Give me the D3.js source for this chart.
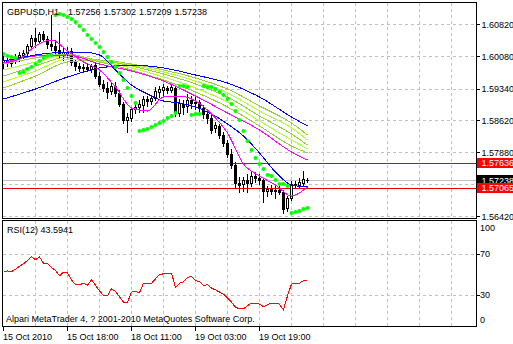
<!DOCTYPE html>
<html>
<head>
<meta charset="utf-8">
<script src="https://cdnjs.cloudflare.com/ajax/libs/d3/7.8.5/d3.min.js"></script>
<style>
  body { margin: 0; background: #fff; }
  svg { display: block; font-family: "Liberation Sans", Arial, sans-serif; font-size: 9px; }
</style>
</head>
<body>
<div id="chart"></div>
<script>
const symbol = "GBPUSD,H1";

// hourly bars, 15 Oct 2010 .. 19 Oct 2010
const open = [1.59949,1.59995,1.59926,1.59972,1.60064,1.60110,1.60155,1.60316,1.60499,1.60430,
  1.60591,1.60476,1.60362,1.60316,1.60224,1.60133,1.60178,1.60201,1.59949,1.59858,
  1.59812,1.59835,1.59789,1.59880,1.59628,1.59445,1.59353,1.59285,1.59399,1.59239,
  1.58987,1.58620,1.58666,1.58872,1.58918,1.58964,1.59101,1.59055,1.59124,1.59262,
  1.59308,1.59353,1.59308,1.59353,1.58780,1.58987,1.58941,1.59078,1.59010,1.59033,
  1.58895,1.58758,1.58666,1.58437,1.58483,1.58276,1.58093,1.57841,1.57589,1.57176,
  1.57153,1.57245,1.57176,1.57337,1.57291,1.57245,1.56993,1.57039,1.56993,1.57016,
  1.56970,1.56603,1.56833,1.57153,1.57130,1.57176,1.57256];
const high = [1.60087,1.60041,1.60018,1.60133,1.60178,1.60224,1.60362,1.60568,1.60728,1.60637,
  1.60660,1.60545,1.61026,1.60453,1.60637,1.60270,1.60293,1.60270,1.59995,1.59926,
  1.59903,1.59926,1.59903,1.59949,1.59720,1.59537,1.59491,1.59468,1.59491,1.59308,
  1.59033,1.58780,1.58918,1.59010,1.59078,1.59170,1.59170,1.59170,1.59376,1.59399,
  1.59445,1.59399,1.59445,1.59399,1.59101,1.59078,1.59216,1.59170,1.59147,1.59078,
  1.58964,1.58826,1.58735,1.58574,1.58528,1.58345,1.58162,1.57955,1.57658,1.57314,
  1.57314,1.57383,1.57428,1.57428,1.57383,1.57291,1.57108,1.57130,1.57130,1.57108,
  1.57016,1.56878,1.57222,1.57222,1.57291,1.57451,1.57302];
const low = [1.59812,1.59858,1.59858,1.59926,1.59972,1.60041,1.60110,1.60270,1.60293,1.60385,
  1.60430,1.60270,1.60224,1.60133,1.60041,1.59995,1.60041,1.59880,1.59766,1.59743,
  1.59720,1.59743,1.59720,1.59583,1.59399,1.59285,1.59124,1.59216,1.59170,1.58941,
  1.58551,1.58345,1.58597,1.58780,1.58803,1.58803,1.58941,1.58987,1.59078,1.59147,
  1.59193,1.59239,1.59262,1.58712,1.58712,1.58758,1.58803,1.58895,1.58872,1.58803,
  1.58666,1.58551,1.58322,1.58345,1.58208,1.58024,1.57772,1.57520,1.57062,1.56970,
  1.56993,1.56970,1.57108,1.57199,1.57153,1.56741,1.56878,1.56924,1.56833,1.56924,
  1.56489,1.56535,1.56787,1.57062,1.57085,1.57130,1.57209];
const close = [1.59995,1.59926,1.59972,1.60064,1.60110,1.60155,1.60316,1.60499,1.60430,1.60591,
  1.60476,1.60362,1.60316,1.60224,1.60133,1.60178,1.60110,1.59949,1.59858,1.59812,
  1.59835,1.59789,1.59858,1.59628,1.59445,1.59353,1.59262,1.59399,1.59239,1.58987,
  1.58620,1.58689,1.58872,1.58918,1.58987,1.59101,1.59055,1.59124,1.59285,1.59330,
  1.59376,1.59308,1.59376,1.58780,1.59010,1.58918,1.59078,1.59010,1.59033,1.58895,
  1.58758,1.58666,1.58391,1.58505,1.58276,1.58093,1.57841,1.57589,1.57176,1.57130,
  1.57245,1.57176,1.57337,1.57291,1.57245,1.56993,1.57039,1.56993,1.57016,1.56970,
  1.56580,1.56833,1.57153,1.57130,1.57199,1.57268,1.57238];

// parabolic SAR, one dot per bar
const sar = [1.60133,1.60087,1.60064,1.60041,1.59697,1.59720,1.59789,1.59835,1.59903,1.59972,
  1.60041,1.60087,1.60110,1.61026,1.61049,1.61026,1.60980,1.60935,1.60866,1.60774,
  1.60683,1.60568,1.60476,1.60385,1.60293,1.60178,1.60064,1.59949,1.59835,1.59697,
  1.59537,1.59353,1.59170,1.59010,1.58368,1.58391,1.58414,1.58460,1.58505,1.58551,
  1.58597,1.58666,1.58712,1.58780,1.59399,1.59399,1.59376,1.58735,1.58758,1.58758,
  1.59399,1.59376,1.59376,1.59330,1.59262,1.59193,1.59101,1.58987,1.58826,1.58620,
  1.58368,1.58139,1.57932,1.57749,1.57612,1.57497,1.57360,1.57337,1.57245,1.57153,
  1.57153,1.57108,1.56489,1.56512,1.56535,1.56580,1.56603];

// moving averages, read every 4 / every 8 bars
const idxFast = [0,4,8,12,16,20,24,28,32,36,40,44,48,52,56,60,64,68,72,76];
const idxSlow = [0,8,16,24,32,40,48,56,64,72,76];
const maFast = [1.59926,1.60018,1.60316,1.60453,1.60201,1.59949,1.59766,1.59376,1.58895,1.58826,
  1.59147,1.59170,1.59055,1.58758,1.58322,1.57612,1.57337,1.57130,1.56878,1.57085];
const maMid = [1.59972,1.60041,1.60110,1.60155,1.60178,1.60178,1.60110,1.59766,1.59422,1.59216,
  1.59055,1.59010,1.58918,1.58758,1.58528,1.58253,1.57864,1.57428,1.57130,1.57085];
const maSlow = [1.59926,1.60087,1.60110,1.59903,1.59743,1.59514,1.59170,1.58780,1.58391,1.57887,1.57703];
const maTrend = [1.59101,1.59330,1.59605,1.59812,1.59880,1.59812,1.59651,1.59468,1.59147,1.58689,1.58483];
const ma1 = [1.59903,1.60041,1.60133,1.59949,1.59766,1.59537,1.59262,1.58918,1.58483,1.58024,1.57864];
const ma2 = [1.59766,1.59949,1.60110,1.59972,1.59812,1.59605,1.59353,1.59033,1.58597,1.58162,1.57955];
const ma3 = [1.59628,1.59858,1.60064,1.59995,1.59858,1.59674,1.59445,1.59147,1.58712,1.58299,1.58047];
const ma4 = [1.59491,1.59743,1.60018,1.59995,1.59880,1.59720,1.59514,1.59239,1.58826,1.58437,1.58162];
const ma5 = [1.59353,1.59628,1.59949,1.59995,1.59903,1.59766,1.59583,1.59330,1.58941,1.58551,1.58276];

// RSI(12)
const rsi = [53.0,53.5,52.9,55.0,58.1,60.3,63.7,67.4,64.2,67.1,
  61.0,60.5,56.9,54.0,48.7,52.3,51.6,44.8,40.0,40.0,
  41.6,39.5,44.8,39.5,34.2,29.6,29.6,36.1,33.5,28.4,
  23.2,23.0,32.9,33.7,32.2,41.6,40.9,41.4,45.8,50.1,
  50.6,51.1,51.3,37.6,41.4,42.9,47.2,48.2,43.9,43.3,
  39.5,40.0,36.8,35.1,33.0,30.8,27.4,23.2,18.2,16.7,
  16.7,19.7,22.3,22.1,21.3,18.7,20.6,22.3,22.3,21.1,
  15.8,29.3,40.7,41.3,41.6,44.1,43.6];
const rsiLast = "43.5941";

const priceTicks = [1.60820, 1.60080, 1.59340, 1.58620, 1.57880, 1.57150, 1.56420];
const priceLabels = [1.60820, 1.60080, 1.59340, 1.58620, 1.57880, 1.56420];
const rsiLevels = [70, 30];
const rsiLabels = [100, 70, 30, 0];
const timeBars = [0, 16, 32, 48, 64];
const timeLabels = ["15 Oct 2010", "15 Oct 18:00", "18 Oct 11:00", "19 Oct 03:00", "19 Oct 19:00"];
const sellLevel = 1.57636, buyLevel = 1.57065, bidLevel = 1.57238;

const W = 513, H = 344;
const svg = d3.select("#chart").append("svg").attr("width", W).attr("height", H);

const x = d3.scaleLinear().domain([0, 112]).range([3.5, 451.5]);
const y = d3.scaleLinear().domain([1.56420, 1.60820]).range([216, 24]);
const yRsi = d3.scaleLinear().domain([0, 100]).range([326, 223]);
const px = v => Math.round(v) + 0.5;

svg.append("defs").append("clipPath").attr("id", "clipMain")
  .append("rect").attr("x", 3).attr("y", 3).attr("width", 473).attr("height", 215);
svg.append("defs").append("clipPath").attr("id", "clipRsi")
  .append("rect").attr("x", 3).attr("y", 221).attr("width", 473).attr("height", 105);

// grid
const grid = svg.append("g")
  .attr("stroke", "#c0c0c0")
  .attr("stroke-dasharray", "3,3")
  .attr("shape-rendering", "crispEdges");
d3.range(8, 113, 8).forEach(function(b) {
  grid.append("line").attr("x1", x(b)).attr("x2", x(b)).attr("y1", 3).attr("y2", 218);
  grid.append("line").attr("x1", x(b)).attr("x2", x(b)).attr("y1", 221).attr("y2", 326);
});
priceTicks.forEach(function(p) {
  grid.append("line").attr("x1", 3).attr("x2", 476).attr("y1", px(y(p))).attr("y2", px(y(p)));
});
rsiLevels.forEach(function(v) {
  grid.append("line").attr("x1", 3).attr("x2", 476).attr("y1", px(yRsi(v))).attr("y2", px(yRsi(v)));
});

// price level lines
const levels = svg.append("g").attr("shape-rendering", "crispEdges");
[[bidLevel, "#c0c0c0"], [sellLevel, "#e60000"], [buyLevel, "#e60000"]].forEach(function(l) {
  levels.append("line").attr("x1", 3).attr("x2", 476)
    .attr("y1", px(y(l[0]))).attr("y2", px(y(l[0])))
    .attr("stroke", l[1]);
});

// candles
const bars = open.map(function(o, i) {
  return { i: i, o: o, h: high[i], l: low[i], c: close[i] };
});
const candles = svg.append("g").attr("clip-path", "url(#clipMain)").attr("shape-rendering", "crispEdges");
bars.forEach(function(d) {
  let cx = x(d.i);
  candles.append("line").attr("x1", cx).attr("x2", cx)
    .attr("y1", Math.round(y(d.h))).attr("y2", Math.round(y(d.l)) + 1)
    .attr("stroke", "#000");
  let top = Math.round(y(Math.max(d.o, d.c)));
  let bot = Math.round(y(Math.min(d.o, d.c)));
  if (d.c >= d.o) {
    candles.append("rect").attr("x", cx - 1).attr("y", top + 0.5)
      .attr("width", 2).attr("height", Math.max(1, bot - top))
      .attr("fill", "#fff").attr("stroke", "#000");
  } else {
    candles.append("rect").attr("x", cx - 1.5).attr("y", top)
      .attr("width", 3).attr("height", Math.max(1, bot - top + 1))
      .attr("fill", "#000");
  }
});

// moving averages
const lines = svg.append("g").attr("clip-path", "url(#clipMain)")
  .attr("fill", "none").attr("stroke-width", 1)
  .attr("shape-rendering", "crispEdges");
const maLine = d3.line()
  .x(function(d) { return x(d[0]); })
  .y(function(d) { return y(d[1]); })
  .curve(d3.curveMonotoneX);
[
  [idxSlow, ma5, "#9acd32"],
  [idxSlow, ma4, "#adff2f"],
  [idxSlow, ma3, "#9acd32"],
  [idxSlow, ma2, "#adff2f"],
  [idxSlow, ma1, "#9acd32"],
  [idxSlow, maTrend, "#0000ff"],
  [idxSlow, maSlow, "#ff00ff"],
  [idxFast, maMid, "#0000ff"],
  [idxFast, maFast, "#ff00ff"]
].forEach(function(s) {
  lines.append("path")
    .attr("d", maLine(s[0].map(function(b, k) { return [b, s[1][k]]; })))
    .attr("stroke", s[2]);
});

// parabolic SAR
svg.append("g").attr("clip-path", "url(#clipMain)")
  .selectAll("circle").data(sar).join("circle")
  .attr("cx", function(d, i) { return x(i); })
  .attr("cy", function(d) { return y(d); })
  .attr("r", 2)
  .attr("fill", "#00ff00");

// RSI
svg.append("path")
  .attr("clip-path", "url(#clipRsi)")
  .attr("d", d3.line()
    .x(function(d, i) { return x(i); })
    .y(function(d) { return yRsi(d); })(rsi))
  .attr("fill", "none")
  .attr("stroke", "#ff0000")
  .attr("shape-rendering", "crispEdges");

// frames
const frames = svg.append("g").attr("fill", "none").attr("stroke", "#000").attr("shape-rendering", "crispEdges");
frames.append("rect").attr("x", 2.5).attr("y", 2.5).attr("width", 474).attr("height", 216);
frames.append("rect").attr("x", 2.5).attr("y", 220.5).attr("width", 474).attr("height", 106);

// price axis
const axis = svg.append("g");
priceTicks.forEach(function(p) {
  axis.append("line").attr("x1", 477).attr("x2", 480)
    .attr("y1", px(y(p))).attr("y2", px(y(p)))
    .attr("stroke", "#000").attr("shape-rendering", "crispEdges");
});
priceLabels.forEach(function(p) {
  axis.append("text").attr("x", 481.5).attr("y", y(p) + 3.5).text(p.toFixed(5));
});
[[bidLevel, "#000"], [sellLevel, "#ff0000"], [buyLevel, "#ff0000"]].forEach(function(l) {
  let cy = y(l[0]);
  let box = axis.append("svg").attr("x", 477).attr("y", Math.round(cy) - 5)
    .attr("width", 36).attr("height", 10);
  box.append("rect").attr("width", 36).attr("height", 10).attr("fill", l[1]);
  box.append("text").attr("x", 4.5).attr("y", cy + 3.5 - (Math.round(cy) - 5))
    .attr("fill", "#fff").text(l[0].toFixed(5));
});

// RSI axis
rsiLevels.forEach(function(v) {
  axis.append("line").attr("x1", 477).attr("x2", 480)
    .attr("y1", px(yRsi(v))).attr("y2", px(yRsi(v)))
    .attr("stroke", "#000").attr("shape-rendering", "crispEdges");
});
rsiLabels.forEach(function(v) {
  let cy = Math.min(320, Math.max(228, yRsi(v)));
  axis.append("text").attr("x", 480).attr("y", cy + 3.3).text(v);
});

// time axis
timeBars.forEach(function(b, k) {
  axis.append("line").attr("x1", x(b)).attr("x2", x(b)).attr("y1", 327).attr("y2", 331)
    .attr("stroke", "#000").attr("shape-rendering", "crispEdges");
  axis.append("text").attr("x", x(b) - 0.5).attr("y", 339.5).text(timeLabels[k]);
});

// labels
const last = open.length - 1;
svg.append("text").attr("x", 7).attr("y", 15).text(symbol);
[open[last], high[last], low[last], close[last]].forEach(function(v, k) {
  svg.append("text").attr("x", 68 + k * 35.5).attr("y", 15).text(v.toFixed(5));
});
svg.append("text").attr("x", 7).attr("y", 233).text("RSI(12) " + rsiLast);
svg.append("text").attr("x", 6).attr("y", 321.5)
  .text("Alpari MetaTrader 4, ? 2001-2010 MetaQuotes Software Corp.");
</script>
</body>
</html>
